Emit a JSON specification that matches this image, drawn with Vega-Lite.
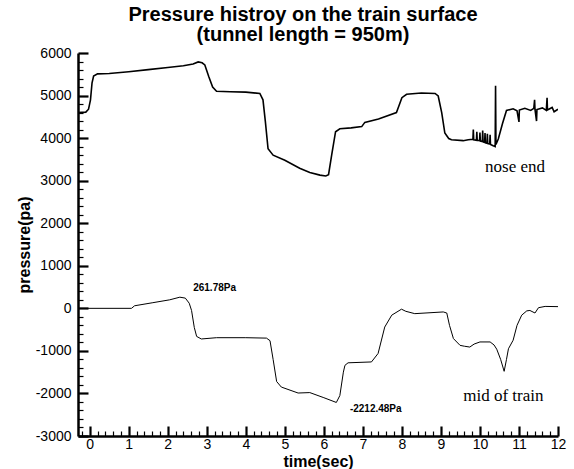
{
  "$schema": "https://vega.github.io/schema/vega-lite/v6.json",
  "width": 480,
  "height": 383,
  "autosize": "none",
  "padding": {"left": 78, "top": 53, "right": 16, "bottom": 33},
  "background": "white",
  "config": {"view": {"stroke": null}, "font": "Liberation Sans"},
  "title": {
    "text": ["Pressure histroy on the train surface", "(tunnel length = 950m)"],
    "font": "Liberation Sans",
    "fontSize": 20,
    "fontWeight": "bold",
    "color": "black",
    "anchor": "middle",
    "dx": -15,
    "offset": 1,
    "lineHeight": 20
  },
  "datasets": {
    "nose": [
      {"t": -0.3, "v": 4600}, {"t": -0.1, "v": 4610}, {"t": -0.03, "v": 4680}, {"t": 0.02, "v": 4900},
      {"t": 0.06, "v": 5300}, {"t": 0.1, "v": 5460}, {"t": 0.2, "v": 5510}, {"t": 0.5, "v": 5520},
      {"t": 1.0, "v": 5560}, {"t": 1.5, "v": 5610}, {"t": 2.0, "v": 5660}, {"t": 2.4, "v": 5700},
      {"t": 2.65, "v": 5740}, {"t": 2.78, "v": 5790}, {"t": 2.88, "v": 5770}, {"t": 2.95, "v": 5720},
      {"t": 3.05, "v": 5450}, {"t": 3.15, "v": 5200}, {"t": 3.25, "v": 5100}, {"t": 3.6, "v": 5090},
      {"t": 4.0, "v": 5080}, {"t": 4.36, "v": 5050}, {"t": 4.44, "v": 4900}, {"t": 4.5, "v": 4400},
      {"t": 4.57, "v": 3750}, {"t": 4.7, "v": 3600}, {"t": 5.0, "v": 3480}, {"t": 5.38, "v": 3290},
      {"t": 5.64, "v": 3190}, {"t": 5.9, "v": 3130}, {"t": 6.05, "v": 3110}, {"t": 6.12, "v": 3140},
      {"t": 6.2, "v": 3600}, {"t": 6.3, "v": 4150}, {"t": 6.41, "v": 4220}, {"t": 6.7, "v": 4240},
      {"t": 6.97, "v": 4270}, {"t": 7.05, "v": 4370}, {"t": 7.4, "v": 4450}, {"t": 7.86, "v": 4600},
      {"t": 7.92, "v": 4750}, {"t": 8.0, "v": 4950}, {"t": 8.12, "v": 5030}, {"t": 8.5, "v": 5060},
      {"t": 8.85, "v": 5050}, {"t": 8.93, "v": 4990}, {"t": 9.02, "v": 4600}, {"t": 9.1, "v": 4120},
      {"t": 9.2, "v": 3990}, {"t": 9.27, "v": 3960}, {"t": 9.57, "v": 3940}, {"t": 9.7, "v": 3960},
      {"t": 9.82, "v": 3970}, {"t": 9.83, "v": 4200}, {"t": 9.84, "v": 3960}, {"t": 9.91, "v": 3950},
      {"t": 9.92, "v": 4150}, {"t": 9.93, "v": 3950}, {"t": 9.99, "v": 3940}, {"t": 10.0, "v": 4130},
      {"t": 10.01, "v": 3930}, {"t": 10.06, "v": 3920}, {"t": 10.07, "v": 4180}, {"t": 10.08, "v": 3910},
      {"t": 10.12, "v": 3900}, {"t": 10.13, "v": 4120}, {"t": 10.14, "v": 3890}, {"t": 10.18, "v": 3880},
      {"t": 10.19, "v": 4100}, {"t": 10.2, "v": 3870}, {"t": 10.25, "v": 3860}, {"t": 10.26, "v": 4080},
      {"t": 10.27, "v": 3850}, {"t": 10.34, "v": 3820}, {"t": 10.39, "v": 3800}, {"t": 10.4, "v": 5230},
      {"t": 10.41, "v": 3850}, {"t": 10.47, "v": 3980}, {"t": 10.58, "v": 4350}, {"t": 10.68, "v": 4650},
      {"t": 10.85, "v": 4690}, {"t": 10.95, "v": 4640}, {"t": 11.0, "v": 4380}, {"t": 11.01, "v": 4660},
      {"t": 11.15, "v": 4700}, {"t": 11.3, "v": 4650}, {"t": 11.38, "v": 4700}, {"t": 11.4, "v": 4900},
      {"t": 11.41, "v": 4680}, {"t": 11.45, "v": 4400}, {"t": 11.46, "v": 4670}, {"t": 11.6, "v": 4710},
      {"t": 11.7, "v": 4650}, {"t": 11.72, "v": 4950}, {"t": 11.73, "v": 4660}, {"t": 11.85, "v": 4720},
      {"t": 11.9, "v": 4620}, {"t": 12.0, "v": 4680}
    ],
    "mid": [
      {"t": -0.3, "v": 0}, {"t": 1.07, "v": 0}, {"t": 1.15, "v": 60}, {"t": 1.6, "v": 130},
      {"t": 2.05, "v": 200}, {"t": 2.31, "v": 262}, {"t": 2.45, "v": 240}, {"t": 2.55, "v": 120},
      {"t": 2.61, "v": -50}, {"t": 2.68, "v": -450}, {"t": 2.74, "v": -660}, {"t": 2.86, "v": -720},
      {"t": 3.25, "v": -690}, {"t": 4.0, "v": -690}, {"t": 4.53, "v": -700}, {"t": 4.62, "v": -760},
      {"t": 4.7, "v": -1200}, {"t": 4.79, "v": -1720}, {"t": 4.91, "v": -1850}, {"t": 5.34, "v": -1990},
      {"t": 5.64, "v": -1980}, {"t": 6.0, "v": -2100}, {"t": 6.32, "v": -2212}, {"t": 6.41, "v": -2050},
      {"t": 6.5, "v": -1500}, {"t": 6.54, "v": -1340}, {"t": 6.62, "v": -1280}, {"t": 7.22, "v": -1260},
      {"t": 7.39, "v": -1060}, {"t": 7.56, "v": -440}, {"t": 7.74, "v": -160}, {"t": 7.99, "v": -20},
      {"t": 8.1, "v": -70}, {"t": 8.33, "v": -125}, {"t": 9.06, "v": -85}, {"t": 9.15, "v": -110},
      {"t": 9.22, "v": -400}, {"t": 9.32, "v": -710}, {"t": 9.49, "v": -870}, {"t": 9.6, "v": -890},
      {"t": 9.74, "v": -910}, {"t": 9.85, "v": -840}, {"t": 10.0, "v": -790}, {"t": 10.26, "v": -790},
      {"t": 10.36, "v": -860}, {"t": 10.43, "v": -960}, {"t": 10.53, "v": -1200}, {"t": 10.62, "v": -1480},
      {"t": 10.68, "v": -1200}, {"t": 10.73, "v": -950}, {"t": 10.85, "v": -750}, {"t": 10.95, "v": -400},
      {"t": 11.07, "v": -160}, {"t": 11.2, "v": -60}, {"t": 11.28, "v": -50}, {"t": 11.41, "v": -110},
      {"t": 11.5, "v": 15}, {"t": 11.67, "v": 45}, {"t": 12.0, "v": 40}
    ],
    "bold_notes": [
      {"t": 3.2, "v": 470, "label": "261.78Pa"},
      {"t": 7.33, "v": -2370, "label": "-2212.48Pa"}
    ],
    "serif_notes": [
      {"t": 10.9, "v": 3310, "label": "nose end"},
      {"t": 10.6, "v": -2070, "label": "mid of train"}
    ]
  },
  "encoding": {
    "x": {
      "field": "t", "type": "quantitative",
      "scale": {"domain": [-0.3, 12], "nice": false, "zero": false},
      "axis": {
        "title": "time(sec)",
        "titleFont": "Liberation Sans", "titleFontSize": 16, "titleFontWeight": "bold", "titleColor": "black",
        "titlePadding": -3,
        "values": [-0.2, 0, 0.2, 0.4, 0.6, 0.8, 1, 1.2, 1.4, 1.6, 1.8, 2, 2.2, 2.4, 2.6, 2.8, 3, 3.2, 3.4, 3.6, 3.8, 4, 4.2, 4.4, 4.6, 4.8, 5, 5.2, 5.4, 5.6, 5.8, 6, 6.2, 6.4, 6.6, 6.8, 7, 7.2, 7.4, 7.6, 7.8, 8, 8.2, 8.4, 8.6, 8.8, 9, 9.2, 9.4, 9.6, 9.8, 10, 10.2, 10.4, 10.6, 10.8, 11, 11.2, 11.4, 11.6, 11.8, 12],
        "labelExpr": "abs(datum.value - round(datum.value)) < 0.001 ? '' + round(datum.value) : ''",
        "labelFont": "Liberation Sans", "labelFontSize": 14, "labelColor": "black",
        "labelPadding": 11, "labelFlush": false, "labelOverlap": false,
        "grid": false,
        "domainColor": "black", "domainWidth": 2.5,
        "tickColor": "black",
        "tickWidth": {"condition": {"test": "abs(datum.value - round(datum.value)) < 0.001", "value": 2.2}, "value": 1.2},
        "tickSize": {"condition": {"test": "abs(datum.value - round(datum.value)) < 0.001", "value": -10}, "value": -5}
      }
    },
    "y": {
      "field": "v", "type": "quantitative",
      "scale": {"domain": [-3000, 6000], "nice": false, "zero": false},
      "axis": {
        "title": "pressure(pa)",
        "titleFont": "Liberation Sans", "titleFontSize": 16, "titleFontWeight": "bold", "titleColor": "black",
        "titlePadding": 3,
        "values": [-3000, -2800, -2600, -2400, -2200, -2000, -1800, -1600, -1400, -1200, -1000, -800, -600, -400, -200, 0, 200, 400, 600, 800, 1000, 1200, 1400, 1600, 1800, 2000, 2200, 2400, 2600, 2800, 3000, 3200, 3400, 3600, 3800, 4000, 4200, 4400, 4600, 4800, 5000, 5200, 5400, 5600, 5800, 6000],
        "labelExpr": "datum.value % 1000 === 0 ? '' + datum.value : ''",
        "labelFont": "Liberation Sans", "labelFontSize": 14, "labelColor": "black",
        "labelPadding": 17, "labelFlush": false, "labelOverlap": false,
        "grid": false,
        "domainColor": "black", "domainWidth": 2.5,
        "tickColor": "black",
        "tickWidth": {"condition": {"test": "datum.value % 1000 === 0", "value": 2.2}, "value": 1.2},
        "tickSize": {"condition": {"test": "datum.value % 1000 === 0", "value": -10}, "value": -5}
      }
    }
  },
  "layer": [
    {
      "data": {"name": "nose"},
      "mark": {"type": "line", "color": "black", "strokeWidth": 1.6, "clip": true}
    },
    {
      "data": {"name": "mid"},
      "mark": {"type": "line", "color": "black", "strokeWidth": 1, "clip": true}
    },
    {
      "data": {"name": "bold_notes"},
      "mark": {"type": "text", "font": "Liberation Sans", "fontSize": 10, "fontWeight": "bold", "color": "black"},
      "encoding": {"text": {"field": "label"}}
    },
    {
      "data": {"name": "serif_notes"},
      "mark": {"type": "text", "font": "Liberation Serif", "fontSize": 17, "color": "black"},
      "encoding": {"text": {"field": "label"}}
    }
  ]
}
